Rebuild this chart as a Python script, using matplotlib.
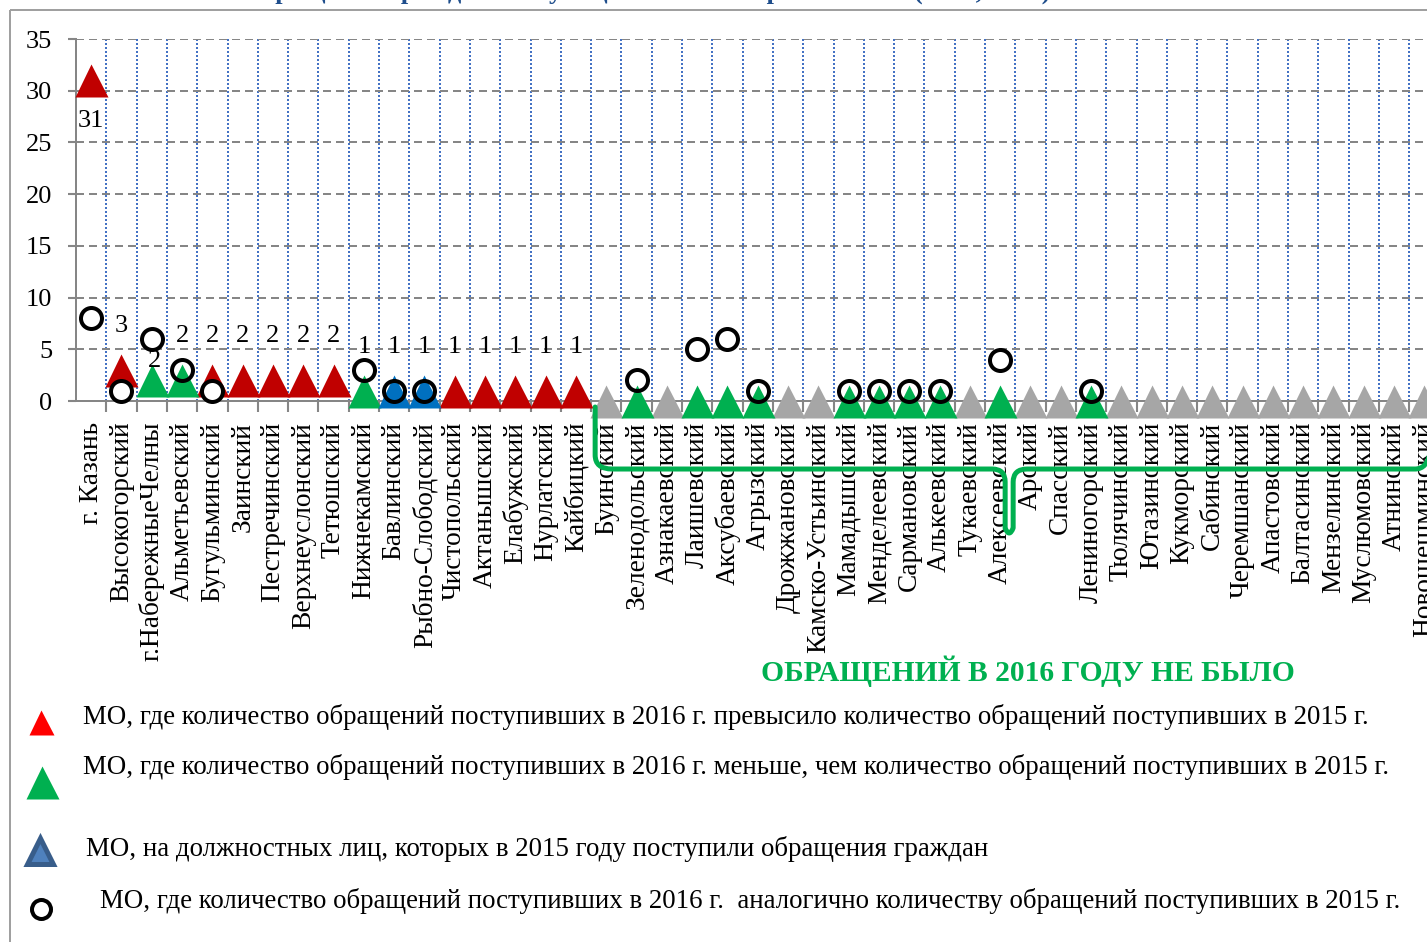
import numpy as np
import matplotlib
matplotlib.use("Agg")
import matplotlib.pyplot as plt
from matplotlib.path import Path
from matplotlib.patches import PathPatch, Rectangle

# --- data ---
districts = [
    "г. Казань", "Высокогорский", "г.НабережныеЧелны", "Альметьевский", "Бугульминский",
    "Заинский", "Пестречинский", "Верхнеуслонский", "Тетюшский", "Нижнекамский",
    "Бавлинский", "Рыбно-Слободский", "Чистопольский", "Актанышский", "Елабужский",
    "Нурлатский", "Кайбицкий", "Буинский", "Зеленодольский", "Азнакаевский",
    "Лаишевский", "Аксубаевский", "Агрызский", "Дрожжановский", "Камско-Устьинский",
    "Мамадышский", "Менделеевский", "Сармановский", "Алькеевский", "Тукаевский",
    "Алексеевский", "Арский", "Спасский", "Лениногорский", "Тюлячинский",
    "Ютазинский", "Кукморский", "Сабинский", "Черемшанский", "Апастовский",
    "Балтасинский", "Мензелинский", "Муслюмовский", "Атнинский", "Новошешминский",
]
# обращения 2016 г. (треугольники)
appeals_2016 = [31, 3, 2, 2, 2, 2, 2, 2, 2, 1, 1, 1, 1, 1, 1, 1, 1,
                0, 0, 0, 0, 0, 0, 0, 0, 0, 0, 0, 0, 0, 0, 0, 0, 0,
                0, 0, 0, 0, 0, 0, 0, 0, 0, 0, 0]
# обращения 2015 г. (кружки)
appeals_2015 = [8, 1, 6, 3, 1, 0, 0, 0, 0, 3, 1, 1, 0, 0, 0, 0, 0,
                0, 2, 0, 5, 6, 1, 0, 0, 1, 1, 1, 1, 0, 4, 0, 0, 1,
                0, 0, 0, 0, 0, 0, 0, 0, 0, 0, 0]

legend_texts = [
    "МО, где количество обращений поступивших в 2016 г. превысило количество обращений поступивших в 2015 г.",
    "МО, где количество обращений поступивших в 2016 г. меньше, чем количество обращений поступивших в 2015 г.",
    "МО, на должностных лиц, которых в 2015 году поступили обращения граждан",
    "МО, где количество обращений поступивших в 2016 г.  аналогично количеству обращений поступивших в 2015 г.",
]
no_appeals_text = "ОБРАЩЕНИЙ В 2016 ГОДУ НЕ БЫЛО"
title_text = "Количество обращений граждан по муниципальным образованиям (2015, 2016)"

# --- style ---
W, H = 1427, 942
PX = 72 / 100  # points per pixel
RED, GREEN, BLUE, GRAY = "#C00000", "#00B050", "#0070C0", "#A6A6A6"
plt.rcParams["font.family"] = ["Liberation Serif", "DejaVu Serif"]

# nudges for data labels (pixels): default above the marker
label_nudge = {0: (0, -41), 2: (3, 19)}
default_nudge = (0, 44)

v16 = np.array(appeals_2016, dtype=float)
v15 = np.array(appeals_2015, dtype=float)
x = np.arange(len(districts))

up = v16 > v15
down = v16 < v15
same = (v16 == v15) & (v16 > 0)
none = (v16 == 0) & (v15 == 0)
has15 = v15 > 0

fig = plt.figure(figsize=(W / 100, H / 100), dpi=100)
cell = 30.3
ax = fig.add_axes([76 / W, 1 - 401 / H, len(districts) * cell / W, 362 / H])
ax.set_xlim(-0.5, len(districts) - 0.5)
ax.set_ylim(0, 35)

tri = 33 * PX
ax.plot(x[up], v16[up], ls="none", marker="^", ms=tri, mfc=RED, mec="none", zorder=3, clip_on=False)
ax.plot(x[none], v16[none], ls="none", marker="^", ms=tri, mfc=GRAY, mec="none", zorder=3, clip_on=False)
ax.plot(x[has15], v15[has15], ls="none", marker="o", ms=21 * PX, mfc="white", mec="none", zorder=4, clip_on=False)
ax.plot(x[down], v16[down], ls="none", marker="^", ms=tri, mfc=GREEN, mec="none", zorder=5, clip_on=False)
ax.plot(x[same], v16[same], ls="none", marker="^", ms=tri, mfc=BLUE, mec="none", zorder=5, clip_on=False)
ax.plot(x[has15], v15[has15], ls="none", marker="o", ms=21 * PX, mfc="none", mec="black",
        mew=4 * PX, zorder=6, clip_on=False)

# data labels for 2016 values
for i in x[v16 > 0]:
    dx, dy = label_nudge.get(i, default_nudge)
    ax.annotate(f"{int(v16[i])}", (i, v16[i]), xytext=(dx * PX, dy * PX), textcoords="offset points",
                ha="center", va="center", fontsize=19, zorder=7)

# axes styling
ax.set_yticks(np.arange(0, 36, 5))
ax.set_xticks(x)
ax.set_xticklabels(districts, rotation=90, fontsize=19.7)
ax.set_xticks(np.arange(0.5, len(districts) - 0.5, 1), minor=True)
ax.tick_params(axis="x", which="major", length=0, pad=15)
ax.tick_params(axis="x", which="minor", length=8, width=1.5, color="#868686", direction="out")
ax.tick_params(axis="y", length=6, width=1.5, color="#868686", labelsize=19, pad=11)
for s in ["top", "right"]:
    ax.spines[s].set_visible(False)
for s in ["left", "bottom"]:
    ax.spines[s].set_color("#868686")
    ax.spines[s].set_linewidth(2 * PX)
ax.grid(axis="y", which="major", color="#868686", lw=2 * PX, ls=(0, (4, 2.5)))
ax.grid(axis="x", which="minor", color="#4472C4", lw=2 * PX, ls=(0, (1, 1)))
ax.set_axisbelow(True)

# green brace under the districts without appeals in 2016
def to_data(px_x, px_y):
    return ((px_x - 91) / cell, (401 - px_y) / 10.34)

brace_px = [
    (595, 407), (595, 455), (595, 469), (612, 469), (992, 469),
    (1005, 469), (1005, 482), (1005, 528), (1009, 538), (1013, 528),
    (1013, 482), (1013, 469), (1027, 469), (1415, 469), (1427, 469), (1430, 452),
]
codes = [Path.MOVETO, Path.LINETO, Path.CURVE3, Path.CURVE3, Path.LINETO,
         Path.CURVE3, Path.CURVE3, Path.LINETO, Path.CURVE3, Path.CURVE3,
         Path.LINETO, Path.CURVE3, Path.CURVE3, Path.LINETO, Path.CURVE3, Path.CURVE3]
brace = Path([to_data(*p) for p in brace_px], codes)
ax.add_patch(PathPatch(brace, fill=False, edgecolor=GREEN, lw=5 * PX, capstyle="round",
                       joinstyle="round", clip_on=False, zorder=10))

ax.text(to_data(1028, 0)[0], to_data(0, 671)[1], no_appeals_text, ha="center", va="center",
        color=GREEN, fontsize=21.3, fontweight="bold", zorder=10)

# legend drawn on a full-figure overlay
ov = fig.add_axes([0, 0, 1, 1], zorder=-1)
ov.set_xlim(0, W)
ov.set_ylim(H, 0)
ov.axis("off")
ov.add_patch(Rectangle((10, 10), W + 20, H + 20, fill=False, edgecolor="#A0A0A0", lw=2 * PX))
ov.plot([41], [722], marker="^", ms=25 * PX, mfc="#FF0000", mec="none", ls="none")
ov.plot([42], [782], marker="^", ms=33 * PX, mfc=GREEN, mec="none", ls="none")
ov.plot([40], [851], marker="^", ms=27 * PX, mfc="#4F81BD", mec="#385D8A", mew=5 * PX, ls="none",
        solid_joinstyle="round")
ov.plot([41], [909], marker="o", ms=19 * PX, mfc="white", mec="black", mew=4 * PX, ls="none")
for tx, ty, t in zip([83, 83, 86, 100], [717, 767, 849, 901], legend_texts):
    ov.text(tx, ty, t, ha="left", va="center", fontsize=19.4)

fig.text(1050 / W, 1 + 1 / H, title_text, ha="right", va="baseline", fontsize=19,
         fontweight="bold", color="#1F4E8C")

fig.savefig("out.png", dpi=100)
